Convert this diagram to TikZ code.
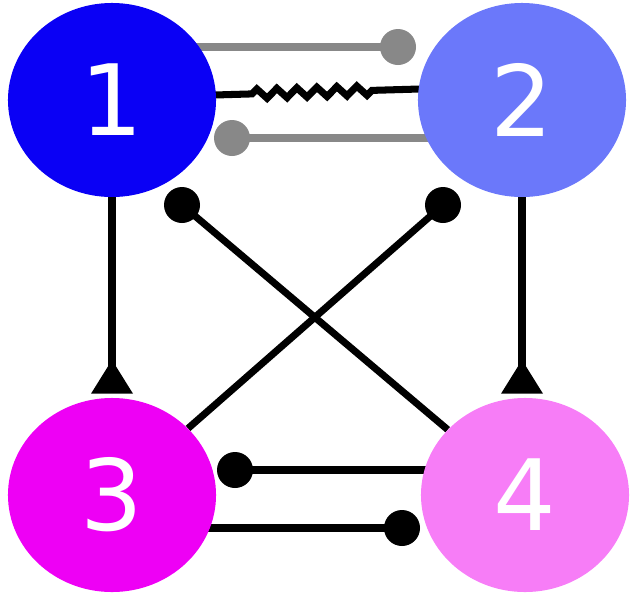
\documentclass[tikz,border=0pt]{standalone}
\usepackage{fontspec}
\setmainfont{DejaVu Sans}
\usetikzlibrary{positioning,shapes.geometric,arrows.meta,decorations.pathmorphing}
\pgfdeclarelayer{background}
\pgfsetlayers{background,main}
\definecolor{cellA}{HTML}{0A00F5}
\definecolor{cellB}{HTML}{6B78FA}
\definecolor{cellC}{HTML}{EE00F5}
\definecolor{cellD}{HTML}{F77DF7}
\definecolor{linkgray}{HTML}{888888}
\tikzset{
  cell/.style={ellipse,minimum width=5.2cm,minimum height=4.85cm,text=white,
    font=\fontsize{70}{72}\selectfont,inner sep=0pt},
  link/.style={line width=5pt,black},
  glink/.style={line width=5pt,linkgray},
  knob/.style={fill=black},
  gknob/.style={fill=linkgray},
  excite/.style={link,-{Triangle[reversed,width=1cm,length=0.85cm]},shorten >=0.1cm}
}
\begin{document}
\begin{tikzpicture}[x=0.025cm,y=-0.025cm]
  \useasboundingbox (0,0) rectangle (638,593);
  % cells
  \node[cell,fill=cellA] (one) at (112,100) {1};
  \node[cell,fill=cellB] (two) at (522,100) {2};
  \node[cell,fill=cellC] (three) at (112,495) {3};
  \node[cell,fill=cellD] (four) at (525,495) {4};
  % dot ends
  \coordinate (g12) at (398,47);
  \coordinate (g21) at (232,138);
  \coordinate (d41) at (182,205);
  \coordinate (d32) at (443,205);
  \coordinate (d43) at (235,470);
  \coordinate (d34) at (402,528);
  \coordinate (z1) at (112,98);
  \coordinate (z2) at (522,86);
  \begin{pgfonlayer}{background}
    \draw[glink] (one.center |- g12) -- (g12);
    \draw[glink] (two.center |- g21) -- (g21);
    \draw[line width=3.5pt] (z1) -- (z2);
    \draw[line width=5pt,white,shorten <=3.5cm,shorten >=3.65cm] (z1) -- (z2);
    \draw[line width=5pt,decorate,decoration={zigzag,amplitude=0.12cm,
      segment length=0.5cm,pre length=3.5cm,post length=3.65cm,
      raise=0pt}] (z1) -- (z2);
    \draw[link] (four) -- (d41);
    \draw[link] (three) -- (d32);
    \draw[link] (four.center |- d43) -- (d43);
    \draw[link] (three.center |- d34) -- (d34);
  \end{pgfonlayer}
  \draw[excite] (one.south) -- (three.north);
  \draw[excite] (two.south) -- (two.south |- four.north);
  \fill[gknob] (g12) circle (18);
  \fill[gknob] (g21) circle (18);
  \foreach \d in {d41,d32,d43,d34}
    \fill[knob] (\d) circle (18);
\end{tikzpicture}
\end{document}
